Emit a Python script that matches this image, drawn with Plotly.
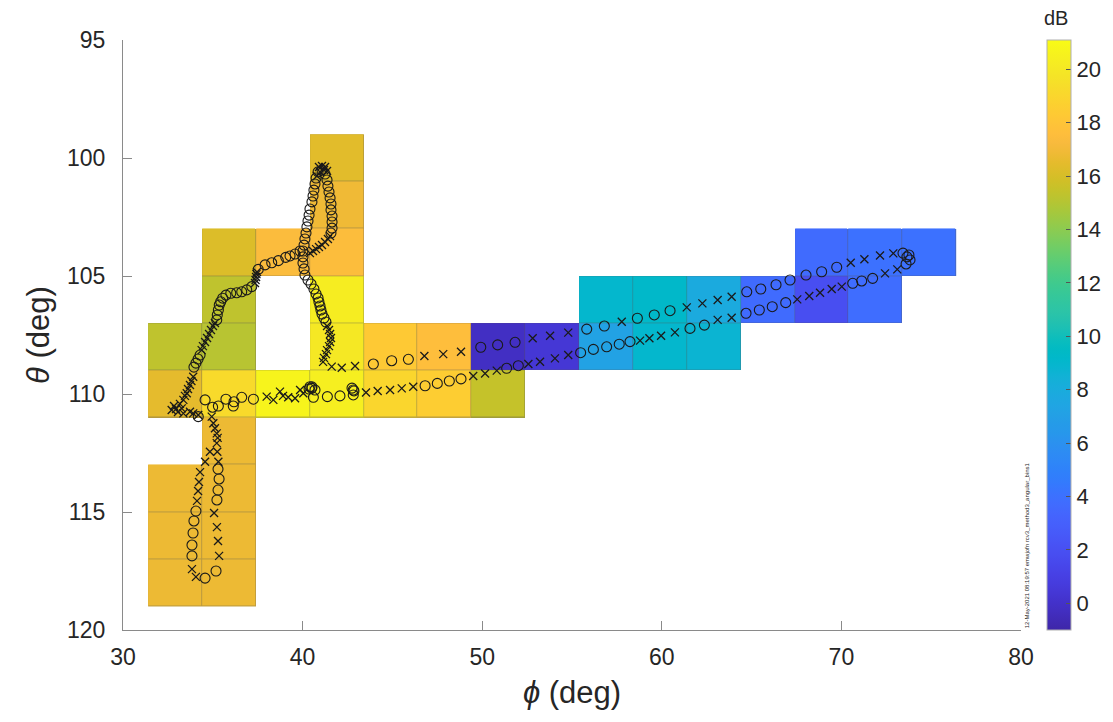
import plotly.graph_objects as go

# Angular bin centres (deg)
phi_centers = [32.9, 35.9, 38.9, 41.9, 44.9, 47.9, 50.9, 53.9, 56.9, 59.9, 62.9, 65.9, 68.9, 71.9, 74.9]
theta_centers = [100, 102, 104, 106, 108, 110, 112, 114, 116, 118]

# Occupied bins and their level (dB)
cell_phi = [41.9, 41.9, 41.9, 38.9, 35.9, 41.9, 35.9, 35.9, 32.9, 41.9,
            44.9, 47.9, 50.9, 53.9, 56.9, 59.9, 62.9, 56.9, 59.9, 62.9,
            65.9, 68.9, 68.9, 71.9, 71.9, 74.9, 50.9, 47.9, 44.9, 41.9,
            38.9, 35.9, 32.9, 35.9, 32.9, 35.9, 32.9, 35.9, 32.9, 35.9]
cell_theta = [100, 102, 104, 104, 104, 106, 106, 108, 108, 108,
              108, 108, 108, 108, 106, 106, 106, 108, 108, 108,
              106, 104, 106, 104, 106, 104, 110, 110, 110, 110,
              110, 110, 110, 112, 114, 114, 116, 116, 118, 118]
cell_db = [16.4, 16.9, 17.5, 17.4, 16.2, 20.3, 15.3, 15.1, 15.3, 20.0,
           18.3, 17.6, -0.2, 0.4, 9.0, 9.2, 7.9, 7.2, 9.0, 8.7,
           3.7, 3.7, 1.9, 4.0, 3.8, 4.0, 15.5, 18.5, 19.0, 20.4,
           20.7, 19.2, 16.5, 16.8, 16.8, 16.8, 16.8, 16.8, 16.8, 16.8]

# Track positions marked with circles
circ_phi = [34.57, 34.99, 35.31, 35.73, 36.14, 36.18, 36.61, 37.26, 34.19,
            40.41, 40.51, 40.69, 40.60, 40.52, 40.36,
            41.38, 42.08, 42.82, 42.82, 42.75, 42.86,
            46.82, 47.50, 48.17, 48.82,
            51.36, 52.01, 55.48, 56.19, 56.93, 57.63, 58.23, 61.57, 62.37,
            64.69, 65.43, 66.15, 66.90, 70.63, 71.13, 71.74,
            73.60, 73.82, 73.76, 73.43, 73.65,
            69.74, 68.90, 68.03, 67.14, 66.36, 65.51, 64.73, 60.46, 59.58, 58.64,
            56.80, 55.82, 51.83, 50.86, 49.92, 45.89, 44.96, 43.94,
            40.30, 40.47, 40.63, 40.75, 40.86, 40.91, 40.97, 41.02, 41.08, 41.19, 41.30,
            40.86, 40.75, 40.69, 40.63, 40.58, 40.52, 40.41, 40.36, 40.30, 40.24,
            40.19, 40.13, 40.08, 40.02, 40.02, 40.02, 40.08, 40.13,
            41.08, 41.25, 41.36, 41.41, 41.47, 41.53, 41.58, 41.58, 41.64, 41.64, 41.64, 41.58,
            37.53, 37.91, 38.28, 38.65, 39.06, 39.30, 39.58, 39.86,
            37.17, 36.89, 36.61, 36.33, 36.00, 35.73, 35.55, 35.44, 35.36, 35.31, 35.25, 35.22,
            34.29, 34.18, 34.06, 33.95,
            35.29, 35.35, 35.29, 35.23, 35.18, 34.57, 33.84, 33.84, 33.90, 33.95, 34.06]
circ_theta = [110.25, 110.56, 110.51, 110.22, 110.51, 110.33, 110.14, 110.22, 110.96,
              109.69, 109.76, 109.83, 110.14, 109.70, 109.79,
              110.11, 110.08, 110.04, 109.83, 109.75, 109.87,
              109.65, 109.55, 109.45, 109.36,
              108.91, 108.80, 108.25, 108.11, 108.00, 107.89, 107.78, 107.22, 107.08,
              106.58, 106.44, 106.30, 106.13, 105.31, 105.21, 105.10,
              104.49, 104.32, 104.11, 104.03, 104.19,
              104.63, 104.82, 104.96, 105.17, 105.37, 105.55, 105.67, 106.47, 106.65, 106.79,
              107.12, 107.25, 107.81, 107.92, 108.02, 108.53, 108.59, 108.73,
              105.17, 105.34, 105.55, 105.76, 105.93, 106.10, 106.27, 106.44, 106.61, 106.78, 106.95,
              100.59, 100.85, 101.10, 101.36, 101.61, 101.86, 102.16, 102.42, 102.67, 102.92,
              103.18, 103.43, 103.69, 103.94, 104.19, 104.45, 104.70, 104.96,
              100.51, 100.68, 100.93, 101.19, 101.44, 101.69, 101.95, 102.20, 102.46, 102.71, 102.97, 103.18,
              104.72, 104.53, 104.44, 104.35, 104.21, 104.15, 104.07, 103.94,
              105.45, 105.59, 105.67, 105.71, 105.73, 105.81, 105.94, 106.09, 106.23, 106.44, 106.65, 106.86,
              108.35, 108.52, 108.69, 108.86,
              113.18, 113.60, 114.07, 114.49, 117.50, 117.80, 116.86, 116.40, 115.89, 115.38, 114.96]

# Track positions marked with crosses
cross_phi = [32.71, 32.84, 32.95, 33.17, 33.27, 33.36, 33.06, 33.73, 33.91, 34.19,
             33.36, 33.45, 33.55, 33.62, 33.73, 33.81, 33.91,
             34.38, 34.45, 34.57, 34.68, 34.79, 34.90, 35.01, 35.12,
             37.35, 37.38, 37.41, 37.43, 37.46,
             40.41, 40.58, 40.75, 40.91, 41.08, 41.25, 41.41, 41.53,
             40.91, 41.08, 41.25, 41.36, 40.97, 40.80, 41.19,
             41.36, 41.47, 41.53, 41.58, 41.53, 41.47, 41.36, 41.30, 41.19, 41.14,
             41.62, 42.18, 42.92,
             46.78, 47.83, 48.82, 52.81, 53.78, 54.79, 57.77, 61.39, 62.26, 63.11, 63.89,
             70.52, 71.28, 72.15, 72.89,
             43.53, 44.18, 44.87, 45.52, 46.16, 49.50, 50.16, 50.81, 52.57, 53.22, 54.05, 54.79,
             58.79, 59.31, 59.96, 60.73, 63.11, 63.89, 67.54, 68.21, 68.81, 69.46, 70.02, 72.43, 73.11,
             38.00, 38.37, 38.74, 38.91, 39.20, 39.58, 39.86, 40.04,
             34.94, 35.03, 35.12, 35.22, 35.27, 35.22, 35.25, 35.31, 34.84, 34.57,
             34.29, 34.23, 34.18, 34.12, 35.07, 35.23, 35.29, 35.35, 34.06, 33.84]
cross_theta = [110.68, 110.51, 110.64, 110.42, 110.61, 110.82, 110.76, 110.75, 110.82, 110.89,
               110.25, 110.08, 109.97, 109.79, 109.62, 109.45, 109.27,
               108.14, 107.97, 107.80, 107.63, 107.46, 107.29, 107.12, 106.99,
               105.30, 105.17, 105.04, 104.92, 104.83,
               104.03, 103.94, 103.86, 103.77, 103.69, 103.56, 103.43, 103.31,
               100.38, 100.34, 100.38, 100.55, 100.59, 100.76, 100.51,
               107.12, 107.29, 107.46, 107.63, 107.80, 107.97, 108.14, 108.31, 108.47, 108.64,
               108.84, 108.89, 108.81,
               108.39, 108.31, 108.21, 107.64, 107.53, 107.40, 106.94, 106.33, 106.16, 106.02, 105.88,
               104.44, 104.29, 104.13, 104.04,
               109.94, 109.87, 109.83, 109.76, 109.69, 109.24, 109.13, 109.01, 108.73, 108.63, 108.49, 108.35,
               107.74, 107.64, 107.53, 107.39, 106.86, 106.77, 105.99, 105.85, 105.71, 105.55, 105.45, 104.89, 104.72,
               110.11, 110.25, 109.90, 110.08, 110.14, 110.18, 109.83, 109.97,
               110.96, 111.24, 111.45, 111.67, 111.86, 112.08, 112.45, 112.87, 112.45, 112.87,
               113.31, 113.73, 114.11, 114.53, 115.04, 115.64, 116.23, 116.86, 117.75, 117.42]

# Parula colour map (64 entries)
PARULA = [
    (0.2422, 0.1504, 0.6603), (0.2504, 0.1650, 0.7076), (0.2578, 0.1818, 0.7511), (0.2647, 0.1978, 0.7952),
    (0.2706, 0.2147, 0.8364), (0.2751, 0.2342, 0.8710), (0.2783, 0.2559, 0.8991), (0.2803, 0.2782, 0.9221),
    (0.2813, 0.3006, 0.9414), (0.2810, 0.3228, 0.9579), (0.2795, 0.3447, 0.9717), (0.2760, 0.3667, 0.9829),
    (0.2699, 0.3892, 0.9906), (0.2602, 0.4123, 0.9952), (0.2440, 0.4358, 0.9988), (0.2206, 0.4603, 0.9973),
    (0.1963, 0.4847, 0.9892), (0.1834, 0.5074, 0.9798), (0.1786, 0.5289, 0.9682), (0.1764, 0.5499, 0.9520),
    (0.1687, 0.5703, 0.9359), (0.1540, 0.5902, 0.9218), (0.1460, 0.6091, 0.9079), (0.1380, 0.6276, 0.8973),
    (0.1248, 0.6459, 0.8883), (0.1113, 0.6635, 0.8763), (0.0952, 0.6798, 0.8598), (0.0689, 0.6948, 0.8394),
    (0.0297, 0.7082, 0.8163), (0.0036, 0.7203, 0.7917), (0.0067, 0.7312, 0.7660), (0.0433, 0.7411, 0.7394),
    (0.0964, 0.7500, 0.7120), (0.1408, 0.7584, 0.6842), (0.1717, 0.7670, 0.6554), (0.1938, 0.7758, 0.6251),
    (0.2161, 0.7843, 0.5923), (0.2470, 0.7918, 0.5567), (0.2906, 0.7973, 0.5188), (0.3406, 0.8008, 0.4789),
    (0.3909, 0.8029, 0.4354), (0.4456, 0.8024, 0.3909), (0.5044, 0.7993, 0.3480), (0.5616, 0.7942, 0.3045),
    (0.6174, 0.7876, 0.2612), (0.6720, 0.7793, 0.2227), (0.7242, 0.7698, 0.1910), (0.7738, 0.7598, 0.1646),
    (0.8203, 0.7498, 0.1535), (0.8634, 0.7406, 0.1596), (0.9035, 0.7330, 0.1774), (0.9393, 0.7288, 0.2100),
    (0.9728, 0.7298, 0.2394), (0.9956, 0.7434, 0.2371), (0.9970, 0.7659, 0.2199), (0.9952, 0.7893, 0.2028),
    (0.9892, 0.8136, 0.1885), (0.9786, 0.8386, 0.1766), (0.9676, 0.8639, 0.1643), (0.9610, 0.8890, 0.1537),
    (0.9597, 0.9135, 0.1423), (0.9628, 0.9373, 0.1265), (0.9691, 0.9606, 0.1064), (0.9769, 0.9839, 0.0805),
]
parula_scale = [[i / (len(PARULA) - 1), "rgb(%d,%d,%d)" % tuple(round(c * 255) for c in rgb)]
                for i, rgb in enumerate(PARULA)]

# Build the binned grid (None = empty bin)
z = [[None] * len(phi_centers) for _ in theta_centers]
mask = [[None] * len(phi_centers) for _ in theta_centers]
for p, t, v in zip(cell_phi, cell_theta, cell_db):
    i = theta_centers.index(t)
    j = phi_centers.index(p)
    z[i][j] = v
    mask[i][j] = 1

TEXT = "#262626"
AXIS = "#8a8a8a"
FONT = "Liberation Sans, Arial, Helvetica, sans-serif"

fig = go.Figure()
# base colour layer
fig.add_trace(go.Heatmap(x=phi_centers, y=theta_centers, z=z, coloraxis="coloraxis",
                         hoverinfo="skip", zsmooth=False))
# translucent grey veil that shows through the gaps as bin edges
fig.add_trace(go.Heatmap(x=phi_centers, y=theta_centers, z=mask, showscale=False,
                         colorscale=[[0, "#5a5a5a"], [1, "#5a5a5a"]], opacity=0.35,
                         hoverinfo="skip", zsmooth=False))
# colour layer with 1px gaps
fig.add_trace(go.Heatmap(x=phi_centers, y=theta_centers, z=z, coloraxis="coloraxis",
                         xgap=1, ygap=1, hoverinfo="skip", zsmooth=False))

fig.add_trace(go.Scatter(x=circ_phi, y=circ_theta, mode="markers", showlegend=False,
                         marker=dict(symbol="circle-open", size=10, color="#1a1a1a",
                                     line=dict(width=1.1, color="#1a1a1a"))))
fig.add_trace(go.Scatter(x=cross_phi, y=cross_theta, mode="markers", showlegend=False,
                         marker=dict(symbol="x-thin-open", size=8, color="#1a1a1a",
                                     line=dict(width=1.3, color="#1a1a1a"))))

fig.update_layout(
    width=1113, height=722,
    margin=dict(l=123, r=92, t=40, b=92, autoexpand=False),
    paper_bgcolor="white", plot_bgcolor="white",
    font=dict(family=FONT, color=TEXT),
    showlegend=False,
    coloraxis=dict(
        colorscale=parula_scale, cmin=-1.0, cmax=21.1,
        colorbar=dict(
            xref="container", x=0.9407, xanchor="left", xpad=0,
            yref="paper", y=0.5, yanchor="middle", ypad=0,
            len=1.0, lenmode="fraction", thickness=24,
            outlinewidth=1, outlinecolor="#b0b0b0",
            tickvals=[0, 2, 4, 6, 8, 10, 12, 14, 16, 18, 20],
            ticks="inside", ticklen=5, tickcolor="#555555",
            tickfont=dict(size=22, color=TEXT, family=FONT),
        ),
    ),
    xaxis=dict(
        range=[30, 80], tick0=30, dtick=10, showgrid=False, zeroline=False,
        showline=True, linecolor=AXIS, linewidth=1,
        ticks="inside", ticklen=9, tickcolor=AXIS,
        tickfont=dict(size=23, color=TEXT), ticklabelstandoff=6,
        title=dict(text="<i>ϕ</i> (deg)", font=dict(size=31, color=TEXT), standoff=12),
    ),
    yaxis=dict(
        range=[120, 95], tick0=95, dtick=5, showgrid=False, zeroline=False,
        showline=True, linecolor=AXIS, linewidth=1,
        ticks="inside", ticklen=9, tickcolor=AXIS,
        tickfont=dict(size=23, color=TEXT), ticklabelstandoff=12,
        title=dict(text="<i>θ</i> (deg)", font=dict(size=31, color=TEXT), standoff=8),
    ),
    annotations=[
        dict(text="dB", xref="paper", yref="paper", x=1.0395, y=1.037,
             xanchor="center", yanchor="middle", showarrow=False,
             font=dict(size=20, color=TEXT)),
        dict(text="12-May-2021 08:19:57 emwjofn rcv3_method3_angular_bins1",
             xref="paper", yref="paper", x=1.007, y=0.0, xanchor="center", yanchor="bottom",
             textangle=-90, showarrow=False, font=dict(size=6, color=TEXT)),
    ],
)

fig.write_html("out.html")
